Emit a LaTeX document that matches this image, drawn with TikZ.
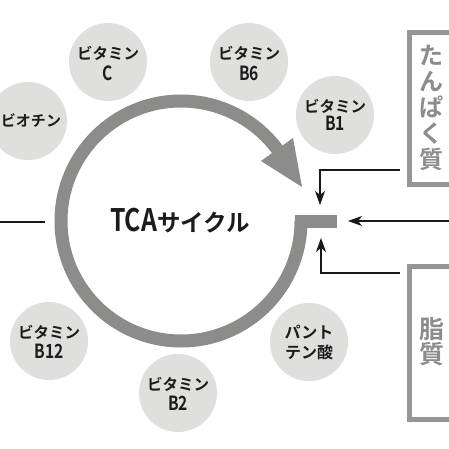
\documentclass[tikz,border=0pt]{standalone}
\usepackage{fontspec}
\usetikzlibrary{arrows.meta,calc}
\newfontfamily\jpb{Noto Sans CJK JP Bold}
\newfontfamily\latb[FakeStretch=0.8]{Noto Sans CJK JP Bold}
\definecolor{ringgray}{RGB}{140,140,138}
\definecolor{bubblegray}{RGB}{223,223,221}
\definecolor{darktext}{RGB}{28,28,28}
\definecolor{boxgray}{RGB}{150,150,148}
\definecolor{boxtextgray}{RGB}{140,140,140}
\tikzset{
  bubble/.style={circle,fill=bubblegray,draw=none,minimum size=78pt,inner sep=0pt},
  kana/.style={inner sep=0pt,text=darktext,font=\jpb\fontsize{15.5}{17}\selectfont},
  latn/.style={inner sep=0pt,text=darktext,font=\latb\fontsize{19.5}{20}\selectfont},
  ringline/.style={draw=ringgray,line width=13pt},
  boxline/.style={draw=boxgray,line width=5pt},
  boxtext/.style={inner sep=0pt,text=boxtextgray,align=center},
  arr/.style={draw=black!90,line width=1.1pt,-{Stealth[length=14pt,width=10pt,inset=4pt]}},
  plainline/.style={draw=black!90,line width=1.1pt}
}
\begin{document}
\begin{tikzpicture}[x=1pt,y=-1pt]
\useasboundingbox (0,0) rectangle (449,449);
\fill[white] (0,0) rectangle (449,449);
% bubbles
\node[bubble] (vc) at (108,62) {};
\node[kana] (vc1) at ($(vc)+(0,-9)$) {ビタミン};
\node[latn] (vc2) at ($(vc)+(0,11)$) {C};
\node[bubble] (vb6) at (249,62) {};
\node[kana] (vb61) at ($(vb6)+(0,-9)$) {ビタミン};
\node[latn] (vb62) at ($(vb6)+(0,11)$) {B6};
\node[bubble] (vb1) at (335,115) {};
\node[kana] (vb11) at ($(vb1)+(0,-9)$) {ビタミン};
\node[latn] (vb12) at ($(vb1)+(0,8)$) {B1};
\node[bubble] (bio) at (28,121) {};
\node[kana,font=\jpb\fontsize{15}{17}\selectfont] (bio1) at ($(bio)+(3,0)$) {ビオチン};
\node[bubble] (vb12c) at (49,341) {};
\node[kana] (vb121) at ($(vb12c)+(0,-9)$) {ビタミン};
\node[latn] (vb122) at ($(vb12c)+(0,10)$) {B12};
\node[bubble] (vb2) at (178,393) {};
\node[kana] (vb21) at ($(vb2)+(0,-9)$) {ビタミン};
\node[latn] (vb22) at ($(vb2)+(0,10)$) {B2};
\node[bubble] (pan) at (309,342) {};
\node[kana,font=\jpb\fontsize{16}{17}\selectfont] (pan1) at ($(pan)+(0,-10)$) {パント};
\node[kana,font=\jpb\fontsize{16}{17}\selectfont] (pan2) at ($(pan)+(0,10)$) {テン酸};
% cycle ring
\coordinate (cc) at (181,221);
\draw[ringline] (301,221) arc[start angle=0,end angle=327.5,radius=120];
\fill[ringgray] (261,161) -- (293,138) -- (302,187) -- cycle;
\node[fill=ringgray,minimum width=42.5pt,minimum height=13pt,inner sep=0pt] (bar) at (315.75,221) {};
% title
\node[inner sep=0pt,text=darktext] (tca) at (180,221)
  {{\latb\fontsize{31}{30}\selectfont TCA}{\jpb\fontsize{23.5}{30}\selectfont サイクル}};
% boxes
\draw[boxline] (460,32.5) -| (409.5,184.5) -- (460,184.5);
\draw[boxline] (460,266.5) -| (409.5,419.5) -- (460,419.5);
\node[boxtext,font=\jpb\fontsize{24}{26}\selectfont] (prot) at (431,107.5) {た\\ん\\ぱ\\く\\質};
\node[boxtext,font=\jpb\fontsize{25}{25}\selectfont] (fat) at (432,342) {脂\\質};
% connectors
\coordinate (s1) at (400,170);
\coordinate (t1) at (320,205);
\coordinate (s2) at (455,221);
\coordinate (t2) at (348,221);
\coordinate (s3) at (400,273);
\coordinate (t3) at (321,238);
\coordinate (l1) at (-5,222);
\coordinate (l2) at (45,222);
\draw[arr] (s1) -| (t1);
\draw[arr] (s2) -- (t2);
\draw[arr] (s3) -| (t3);
\draw[plainline] (l1) -- (l2);
\end{tikzpicture}
\end{document}
